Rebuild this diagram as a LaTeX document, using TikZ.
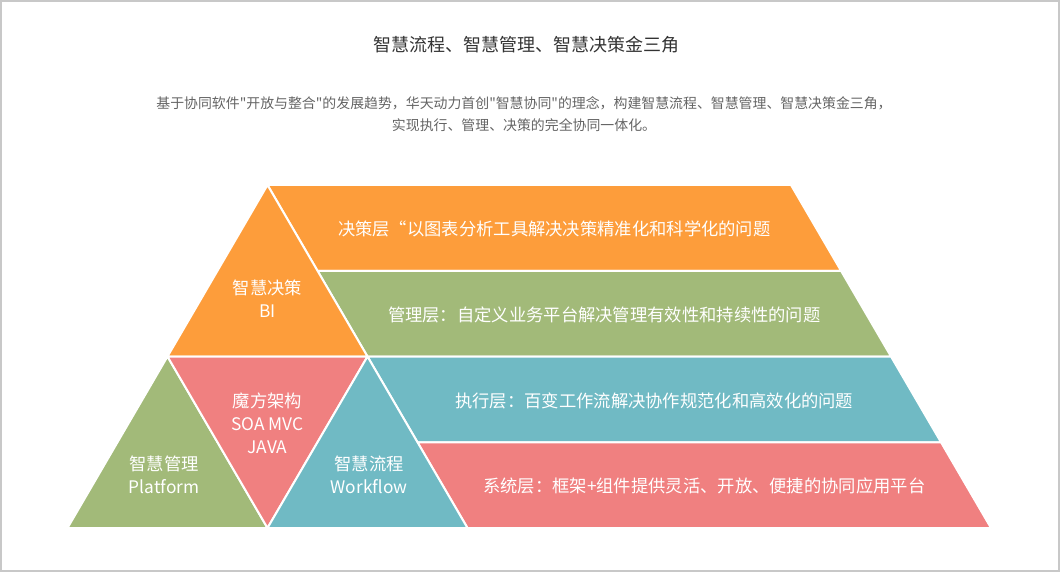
\documentclass[tikz,border=0pt]{standalone}
\usepackage{fontspec}
\setmainfont{Noto Sans CJK SC}[Ligatures=TeXOff]
\usepackage{tikz}

\definecolor{hzorange}{RGB}{253,157,59}
\definecolor{hzgreen}{RGB}{162,186,121}
\definecolor{hzteal}{RGB}{112,186,196}
\definecolor{hzred}{RGB}{240,128,128}
\definecolor{hzframe}{RGB}{200,200,200}
\definecolor{hztitle}{RGB}{51,51,51}
\definecolor{hzintro}{RGB}{100,100,100}

\begin{document}
\begin{tikzpicture}[
                    x=1pt,
                    y=-1pt,
                    tri/.style={draw=white, line width=2pt, line join=round},
                    lbl/.style={text=white, font=\fontsize{17.3}{23}\selectfont, align=center, inner sep=0pt},
                ]
                \useasboundingbox (0,0) rectangle (1060,572) ;
                \draw[hzframe, line width=2pt] (1,1) rectangle (1059,571) ;

                \node[text=hztitle, font=\fontsize{18}{22}\selectfont, inner sep=0pt] (title) at (526,45) {智慧流程、智慧管理、智慧决策金三角} ;
                \node[text=hzintro, font=\fontsize{13.9}{22}\selectfont, align=center, inner sep=0pt] (intro) at (524,114)
                    {基于协同软件"开放与整合"的发展趋势，华天动力首创"智慧协同"的理念，构建智慧流程、智慧管理、智慧决策金三角，\\实现执行、管理、决策的完全协同一体化。} ;

                % layers on the right
                \foreach \i/\col/\txt in {
                        0/hzorange/{决策层“以图表分析工具解决决策精准化和科学化的问题},
                        1/hzgreen/{管理层：自定义业务平台解决管理有效性和持续性的问题},
                        2/hzteal/{执行层：百变工作流解决协作规范化和高效化的问题},
                        3/hzred/{系统层：框架+组件提供灵活、开放、便捷的协同应用平台}} {
                    \pgfmathsetmacro\ya{185+85.75*\i}
                    \pgfmathsetmacro\yb{\ya+85.75}
                    \pgfmathsetmacro\xa{267.5+0.5831*(\ya-185)}
                    \pgfmathsetmacro\xb{267.5+0.5831*(\yb-185)}
                    \filldraw[tri, fill=\col] (\xa,\ya) -- (\xa+523.5,\ya) -- (\xb+523.5,\yb) -- (\xb,\yb) -- cycle ;
                    \node[lbl] (layer\i) at ({(\xa+\xb)/2+261.75},{\ya+44}) {\txt} ;
                }

                % triangles on the left
                \filldraw[tri, fill=hzorange] (267.5,185) -- (167.5,356.5) -- (367.5,356.5) -- cycle ;
                \filldraw[tri, fill=hzgreen] (167.5,356.5) -- (67.5,528) -- (267.5,528) -- cycle ;
                \filldraw[tri, fill=hzred] (167.5,356.5) -- (367.5,356.5) -- (267.5,528) -- cycle ;
                \filldraw[tri, fill=hzteal] (367.5,356.5) -- (267.5,528) -- (467.5,528) -- cycle ;

                \node[lbl] (bi) at (267.5,299) {智慧决策\\BI} ;
                \node[lbl] (magic) at (267.5,423) {魔方架构\\SOA MVC\\JAVA} ;
                \node[lbl] (platform) at (164,475) {智慧管理\\Platform} ;
                \node[lbl] (workflow) at (369,475) {智慧流程\\Workflow} ;
            \end{tikzpicture}
\end{document}
